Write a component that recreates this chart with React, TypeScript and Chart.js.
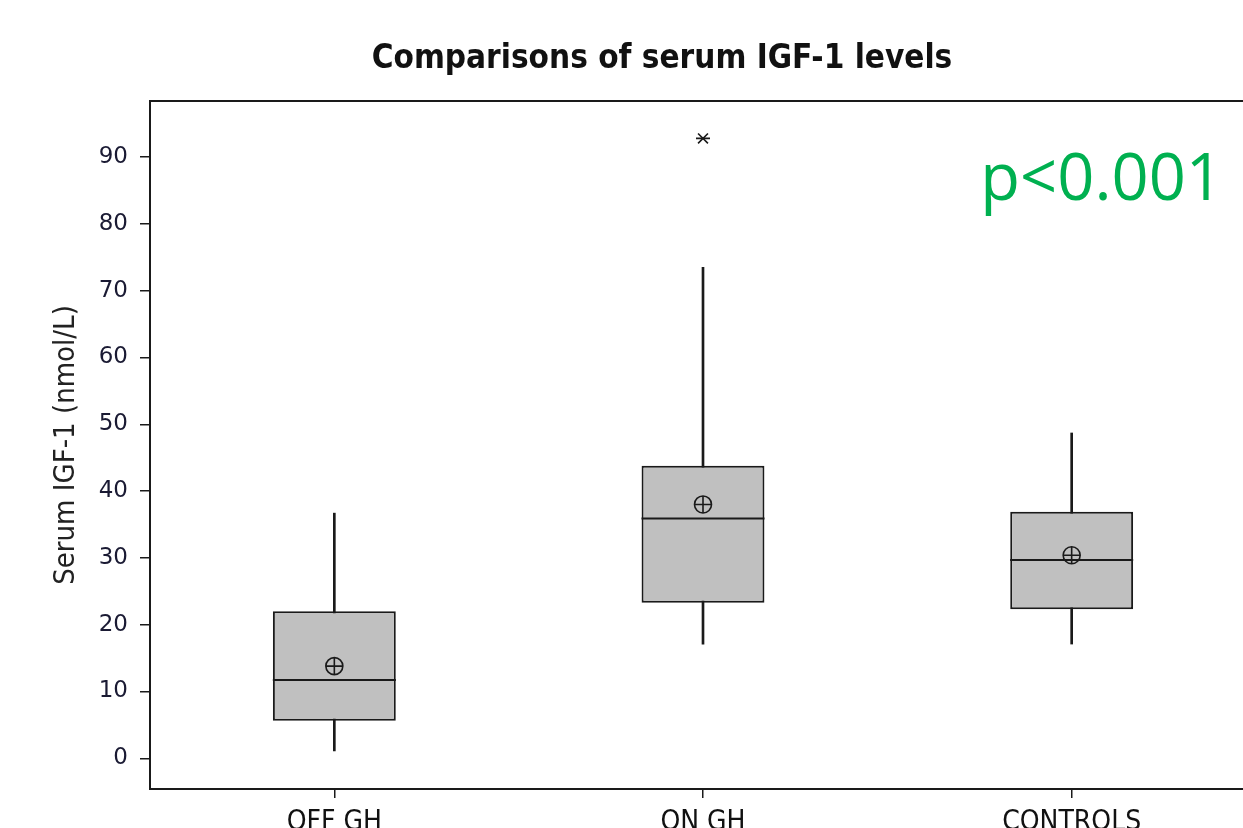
import React, { useEffect, useRef } from 'react';
import { Chart, registerables } from 'chart.js';

Chart.register(...registerables);

const TITLE = 'Comparisons of serum IGF-1 levels';
const Y_TITLE = 'Serum IGF-1 (nmol/L)';
const P_TEXT = 'p<0.001';

const CATEGORIES = ['OFF GH', 'ON GH', 'CONTROLS'];
const Q1 = [5.6, 23.3, 22.3];
const Q3 = [22.0, 43.8, 36.9];
const MEDIANS = [11.7, 35.9, 29.7];
const MEANS = [13.8, 38.0, 30.4];
const WHISKER_LOW = [1.1, 17.1, 17.1];
const WHISKER_HIGH = [36.7, 73.5, 48.7];
const OUTLIERS = [{ x: 'ON GH', y: 92.8 }];
const Y_TICKS = [0, 10, 20, 30, 40, 50, 60, 70, 80, 90];
const Y_MIN = -4.6;
const Y_MAX = 98.4;

const INK = '#1a1a1a';
const COND = '"DejaVu Sans Condensed", "DejaVu Sans", sans-serif';

const textPlugin = {
  id: 'textPlugin',
  afterDraw(chart: any) {
    const ctx = chart.ctx;
    const area = chart.chartArea;
    ctx.save();
    ctx.strokeStyle = INK;
    ctx.lineWidth = 2;
    ctx.strokeRect(area.left, area.top, area.right - area.left, area.bottom - area.top);
    ctx.fillStyle = '#111';
    ctx.textAlign = 'center';
    ctx.textBaseline = 'middle';
    ctx.font = 'bold 33px ' + COND;
    ctx.fillText(TITLE, 662, 59);
    ctx.fillStyle = '#00B050';
    ctx.textAlign = 'right';
    ctx.font = '65px "Open Sans", sans-serif';
    ctx.fillText(P_TEXT, 1223, 181);
    ctx.restore();
  },
};

export default function App() {
  const ref = useRef<HTMLCanvasElement | null>(null);

  useEffect(() => {
    document.body.style.margin = '0';
    document.body.style.overflow = 'hidden';
    const canvas = ref.current;
    if (!canvas) return;
    const chart = new Chart(canvas, {
      type: 'bar',
      data: {
        labels: CATEGORIES,
        datasets: [
          {
            type: 'bar',
            label: 'whiskers',
            data: CATEGORIES.map((_, i) => [WHISKER_LOW[i], WHISKER_HIGH[i]]) as any,
            backgroundColor: INK,
            borderWidth: 0,
            barThickness: 2,
            grouped: false,
            order: 5,
          } as any,
          {
            type: 'bar',
            label: 'box',
            data: CATEGORIES.map((_, i) => [Q1[i], Q3[i]]) as any,
            backgroundColor: '#c0c0c0',
            borderColor: INK,
            borderWidth: 2,
            borderSkipped: false,
            categoryPercentage: 1 / 3,
            barPercentage: 1,
            grouped: false,
            order: 4,
          } as any,
          {
            type: 'line',
            label: 'median',
            data: MEDIANS,
            showLine: false,
            pointStyle: 'line',
            pointRadius: 61.5,
            borderColor: INK,
            borderWidth: 2,
            order: 3,
          } as any,
          {
            type: 'line',
            label: 'mean',
            data: MEANS,
            showLine: false,
            pointStyle: 'circle',
            pointRadius: 8.5,
            backgroundColor: 'rgba(0,0,0,0)',
            borderColor: INK,
            borderWidth: 1.6,
            order: 2,
          } as any,
          {
            type: 'line',
            label: 'mean-cross',
            data: MEANS,
            showLine: false,
            pointStyle: 'cross',
            pointRadius: 8.5,
            borderColor: INK,
            borderWidth: 1.6,
            order: 2,
          } as any,
          {
            type: 'line',
            label: 'outlier-x',
            data: OUTLIERS as any,
            showLine: false,
            pointStyle: 'crossRot',
            pointRadius: 7,
            borderColor: INK,
            borderWidth: 1.6,
            order: 1,
          } as any,
          {
            type: 'line',
            label: 'outlier-bar',
            data: OUTLIERS as any,
            showLine: false,
            pointStyle: 'line',
            pointRadius: 7,
            borderColor: INK,
            borderWidth: 1.6,
            order: 1,
          } as any,
        ],
      },
      options: {
        animation: false,
        responsive: false,
        events: [],
        layout: { autoPadding: false, padding: { left: 0, top: 101, right: 34, bottom: 0 } },
        plugins: {
          legend: { display: false },
          tooltip: { enabled: false },
          title: { display: false },
        },
        scales: {
          x: {
            type: 'category',
            offset: true,
            grid: {
              display: true,
              drawOnChartArea: false,
              drawTicks: true,
              tickLength: 9,
              color: INK,
              lineWidth: 1.5,
              offset: false,
            },
            border: { display: true, color: INK, width: 2 },
            ticks: {
              color: '#111',
              padding: 8,
              font: { family: COND, size: 28 },
            },
            afterFit: (scale: any) => {
              scale.height = 870 - 789;
            },
          },
          y: {
            type: 'linear',
            min: Y_MIN,
            max: Y_MAX,
            afterBuildTicks: (scale: any) => {
              scale.ticks = Y_TICKS.map((v) => ({ value: v }));
            },
            grid: {
              display: true,
              drawOnChartArea: false,
              drawTicks: true,
              tickLength: 10,
              color: INK,
              lineWidth: 1.5,
            },
            border: { display: true, color: INK, width: 2 },
            ticks: {
              color: '#1a1a33',
              padding: 12,
              font: { family: '"DejaVu Sans", sans-serif', size: 23 },
            },
            title: {
              display: true,
              text: Y_TITLE,
              color: '#222',
              padding: { top: 49, bottom: 0 },
              font: { family: COND, size: 29 },
            },
            afterFit: (scale: any) => {
              scale.width = 150;
            },
          },
        },
      },
      plugins: [textPlugin],
    });
    return () => chart.destroy();
  }, []);

  return (
    <div style={{ width: 1243, height: 828, overflow: 'hidden', background: '#fff' }}>
      <canvas ref={ref} width={1290} height={870} style={{ display: 'block' }} />
    </div>
  );
}
